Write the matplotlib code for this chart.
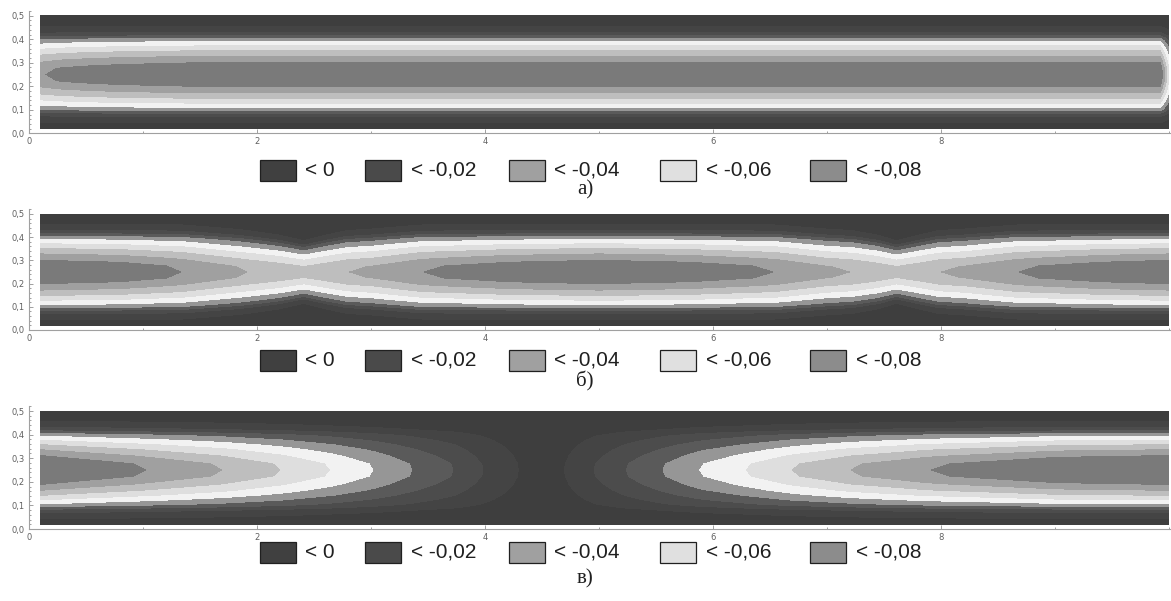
import numpy as np
import matplotlib
matplotlib.use('Agg')
import matplotlib.pyplot as plt
from matplotlib.patches import Rectangle
from matplotlib.ticker import FixedLocator, MultipleLocator

############################# Data #############################

# depth levels (field is negative, bands every 0.01)
levels = [-0.2, -0.09, -0.08, -0.07, -0.06, -0.05, -0.04, -0.03, -0.02, -0.01, 0.001]
band_colors = ['#7a7a7a', '#a0a0a0', '#bebebe', '#dedede', '#f2f2f2',
               '#969696', '#5a5a5a', '#4c4c4c', '#444444', '#3e3e3e']

# cross-section profile (relative depth across y)
y_prof = [0.02, 0.04, 0.06, 0.075, 0.09, 0.10, 0.12, 0.14, 0.16, 0.186, 0.22, 0.25,
          0.28, 0.314, 0.34, 0.36, 0.38, 0.40, 0.41, 0.425, 0.44, 0.46, 0.48, 0.50]
f_prof = [0.05, 0.10, 0.17, 0.25, 0.38, 0.47, 0.58, 0.68, 0.77, 0.87, 0.98, 1.00,
          0.98, 0.87, 0.77, 0.68, 0.58, 0.47, 0.38, 0.25, 0.17, 0.10, 0.05, 0.00]

# panel a: centre-line depth along x
x_a = [0.1, 0.3, 0.6, 1.0, 1.5, 2.5, 5.0, 7.5, 9.0, 9.93, 10.0]
amp_a = [0.0895, 0.093, 0.096, 0.098, 0.1, 0.1, 0.1, 0.1, 0.1, 0.1, 0.065]
wid_a = [1] * len(x_a)

# panel b: two pinches near x=2.4 and x=7.6
x_b = [0.1, 0.8, 1.36, 1.8, 1.93, 2.2, 2.41, 2.6, 2.78, 3.0, 3.43, 4.2, 5.0,
       5.8, 6.56, 7.0, 7.23, 7.45, 7.61, 7.8, 7.97, 8.2, 8.65, 9.4, 10.0]
amp_b = [0.1, 0.097, 0.09, 0.082, 0.08, 0.077, 0.074, 0.077, 0.08, 0.082, 0.09, 0.097, 0.1,
         0.097, 0.09, 0.082, 0.08, 0.077, 0.074, 0.077, 0.08, 0.082, 0.09, 0.097, 0.1]
wid_b = [1, 1, 1, 0.93, 0.9, 0.81, 0.7, 0.81, 0.9, 0.93, 1, 1, 1,
         1, 1, 0.93, 0.9, 0.81, 0.7, 0.81, 0.9, 0.93, 1, 1, 1]

# panel c: depth vanishes near x=4.5
x_c = [0.1, 1.05, 1.71, 2.22, 2.65, 3.03, 3.37, 3.73, 3.99, 4.3, 4.5, 4.69, 4.95,
       5.23, 5.55, 5.87, 6.28, 6.68, 7.19, 7.88, 9.0, 10.0]
amp_c = [0.104, 0.09, 0.08, 0.07, 0.06, 0.05, 0.04, 0.03, 0.02, 0.01, 0.004, 0.01, 0.02,
         0.03, 0.04, 0.05, 0.06, 0.07, 0.08, 0.09, 0.101, 0.104]
wid_c = [1] * len(x_c)

legend_labels = ['< 0', '< -0,02', '< -0,04', '< -0,06', '< -0,08']
legend_colors = ['#404040', '#4a4a4a', '#a0a0a0', '#e0e0e0', '#8c8c8c']
panel_labels = ['а)', 'б)', 'в)']

############################# Layout (pixels) #############################

W, H = 1171, 601
panels = [
    # x, amp, width, y0 pixel, px per unit y, legend centre y, label y
    (x_a, amp_a, wid_a, 133.3, 235.0, 170, 190),
    (x_b, amp_b, wid_b, 330.0, 232.0, 360, 381),
    (x_c, amp_c, wid_c, 529.0, 236.0, 552, 579),
]
x0_px, px_per_x = 29.0, 114.0
box_x = [260, 365, 509, 660, 810]
text_x = [305, 411, 554, 706, 856]


def make_grid(xs, amp, wid):
    xs = np.asarray(xs, float)
    yp = np.asarray(y_prof, float)
    X = np.tile(xs, (len(yp), 1))
    Y = 0.25 + np.outer(yp - 0.25, wid)
    Y[0, :] = yp[0]
    Y[-1, :] = yp[-1]
    Z = -np.outer(f_prof, amp)
    return X, Y, Z


def style_axes(ax, xmax, ymax):
    ax.set_xlim(0, xmax)
    ax.set_ylim(0, ymax)
    for s in ['top', 'right']:
        ax.spines[s].set_visible(False)
    for s in ['left', 'bottom']:
        ax.spines[s].set_color('#a0a0a0')
        ax.spines[s].set_linewidth(0.8)
    ax.xaxis.set_major_locator(FixedLocator([0, 2, 4, 6, 8]))
    ax.xaxis.set_minor_locator(MultipleLocator(1))
    ax.yaxis.set_major_locator(FixedLocator([0, 0.1, 0.2, 0.3, 0.4, 0.5]))
    ax.yaxis.set_minor_locator(MultipleLocator(0.02))
    ax.set_yticklabels(['0,0', '0,1', '0,2', '0,3', '0,4', '0,5'])
    ax.set_xticklabels(['0', '2', '4', '6', '8'])
    ax.tick_params(which='both', direction='in', colors='#909090', labelcolor='#606060',
                   labelsize=6, width=0.6, pad=3)
    ax.tick_params(which='major', length=3)
    ax.tick_params(which='minor', length=1.5)
    ax.set_facecolor('white')


fig = plt.figure(figsize=(W / 100, H / 100), dpi=100)

for i, (xs, amp, wid, y0, ppy, leg_y, lab_y) in enumerate(panels):
    ymax = 0.52
    top_px = y0 - ymax * ppy
    left = x0_px / W
    width = 1 - left
    bottom = 1 - y0 / H
    height = (y0 - top_px) / H
    ax = fig.add_axes([left, bottom, width, height])
    X, Y, Z = make_grid(xs, amp, wid)
    ax.contourf(X, Y, Z, levels=levels, colors=band_colors, antialiased=False)
    style_axes(ax, (W - x0_px) / px_per_x, ymax)

    # legend row
    for bx, tx, lab, col in zip(box_x, text_x, legend_labels, legend_colors):
        fig.add_artist(Rectangle((bx / W, 1 - (leg_y + 10.5) / H), 36 / W, 21 / H,
                                 transform=fig.transFigure, facecolor=col,
                                 edgecolor='#202020', linewidth=0.9))
        fig.text(tx / W, 1 - leg_y / H, lab, ha='left', va='center', fontsize=15,
                 family=['Liberation Sans', 'DejaVu Sans'], color='#202020')
    fig.text(585 / W, 1 - lab_y / H, panel_labels[i], ha='center', va='center',
             fontsize=15, family=['Liberation Serif', 'DejaVu Serif'], color='#202020')

plt.savefig('out.png', dpi=100)
plt.close()
